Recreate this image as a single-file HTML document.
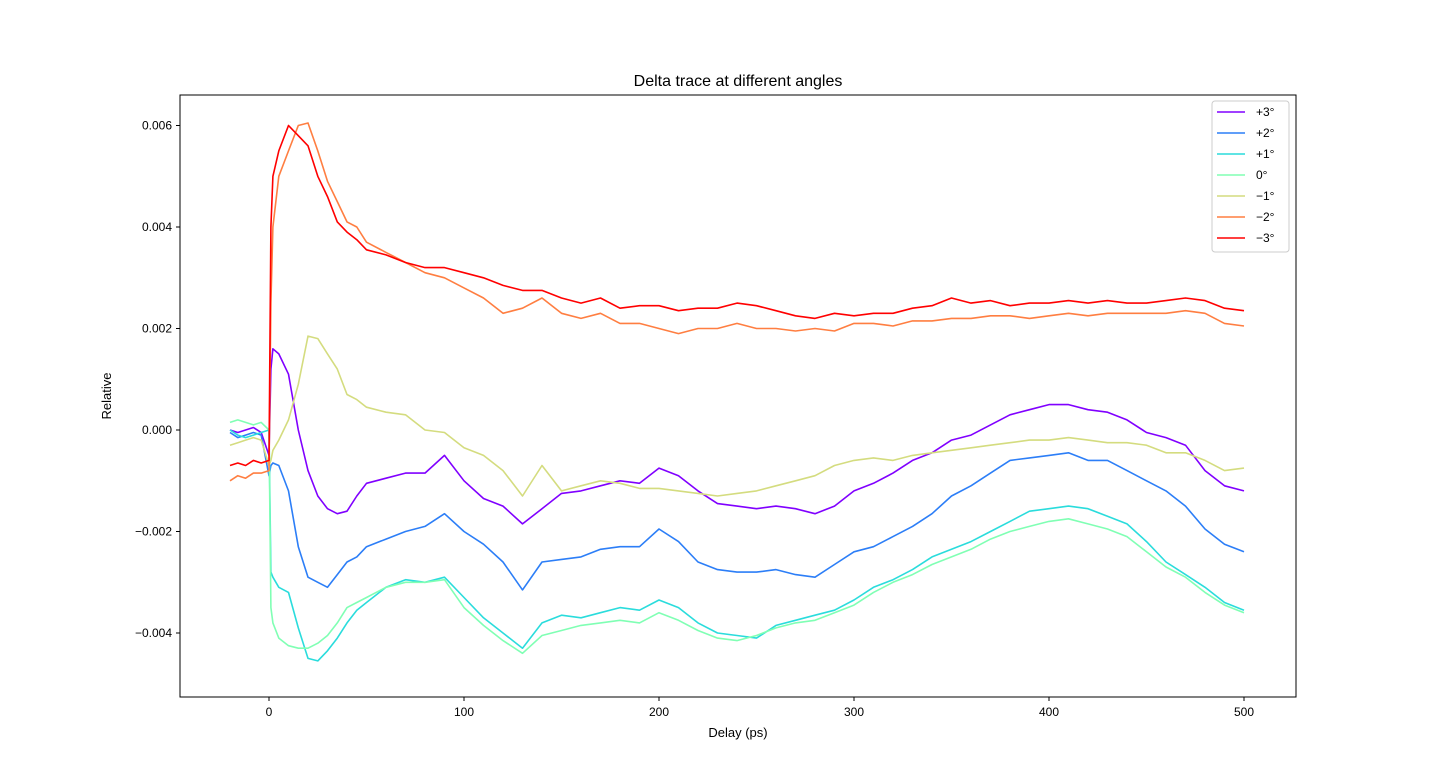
<!DOCTYPE html>
<html><head><meta charset="utf-8"><style>
html,body{margin:0;padding:0;background:#fff;}
svg{display:block;font-family:"Liberation Sans","DejaVu Sans",sans-serif;}
</style></head><body>
<svg id="chart" width="1440" height="783" viewBox="0 0 1440 783" xmlns="http://www.w3.org/2000/svg">
<rect width="1440" height="783" fill="#fff"/>
<text x="738" y="86" font-size="16" text-anchor="middle">Delta trace at different angles</text>
<g id="plot"></g>
<rect x="180" y="95" width="1116" height="602" fill="none" stroke="#000" stroke-width="1"/>
<g id="axes"></g>
<text x="738" y="737" font-size="13" text-anchor="middle">Delay (ps)</text>
<text x="111" y="396" font-size="13" text-anchor="middle" transform="rotate(-90 111 396)">Relative</text>
<g id="legend"></g>
</svg>
<script>
const times=[-20,-16,-12,-8,-4,0,1,2,5,10,15,20,25,30,35,40,45,50,60,70,80,90,100,110,120,130,140,150,160,170,180,190,200,210,220,230,240,250,260,270,280,290,300,310,320,330,340,350,360,370,380,390,400,410,420,430,440,450,460,470,480,490,500];
const labels=["+3°","+2°","+1°","0°","\u22121°","\u22122°","\u22123°"];
const colors=["#8000ff","#2c7ef7","#2adcdc","#80ffb4","#d4dc7f","#ff7e41","#ff0000"];
const sP3=[0.0,-0.05,0.0,0.05,-0.05,-0.5,1.2,1.6,1.5,1.1,0.0,-0.8,-1.3,-1.55,-1.65,-1.6,-1.3,-1.05,-0.95,-0.85,-0.85,-0.5,-1.0,-1.35,-1.5,-1.85,-1.55,-1.25,-1.2,-1.1,-1.0,-1.05,-0.75,-0.9,-1.2,-1.45,-1.5,-1.55,-1.5,-1.55,-1.65,-1.5,-1.2,-1.05,-0.85,-0.6,-0.45,-0.2,-0.1,0.1,0.3,0.4,0.5,0.5,0.4,0.35,0.2,-0.05,-0.15,-0.3,-0.8,-1.1,-1.2];
const sP2=[-0.05,-0.15,-0.1,-0.05,-0.1,-0.9,-0.7,-0.65,-0.7,-1.2,-2.3,-2.9,-3.0,-3.1,-2.85,-2.6,-2.5,-2.3,-2.15,-2.0,-1.9,-1.65,-2.0,-2.25,-2.6,-3.15,-2.6,-2.55,-2.5,-2.35,-2.3,-2.3,-1.95,-2.2,-2.6,-2.75,-2.8,-2.8,-2.75,-2.85,-2.9,-2.65,-2.4,-2.3,-2.1,-1.9,-1.65,-1.3,-1.1,-0.85,-0.6,-0.55,-0.5,-0.45,-0.6,-0.6,-0.8,-1.0,-1.2,-1.5,-1.95,-2.25,-2.4];
const sP1=[0.0,-0.1,-0.15,-0.1,-0.05,0.0,-2.8,-2.9,-3.1,-3.2,-3.9,-4.5,-4.55,-4.35,-4.1,-3.8,-3.55,-3.4,-3.1,-2.95,-3.0,-2.9,-3.3,-3.7,-4.0,-4.3,-3.8,-3.65,-3.7,-3.6,-3.5,-3.55,-3.35,-3.5,-3.8,-4.0,-4.05,-4.1,-3.85,-3.75,-3.65,-3.55,-3.35,-3.1,-2.95,-2.75,-2.5,-2.35,-2.2,-2.0,-1.8,-1.6,-1.55,-1.5,-1.55,-1.7,-1.85,-2.2,-2.6,-2.85,-3.1,-3.4,-3.55];
const s0=[0.15,0.2,0.15,0.1,0.15,0.0,-3.5,-3.8,-4.1,-4.25,-4.3,-4.3,-4.2,-4.05,-3.8,-3.5,-3.4,-3.3,-3.1,-3.0,-3.0,-2.95,-3.5,-3.85,-4.15,-4.4,-4.05,-3.95,-3.85,-3.8,-3.75,-3.8,-3.6,-3.75,-3.95,-4.1,-4.15,-4.05,-3.9,-3.8,-3.75,-3.6,-3.45,-3.2,-3.0,-2.85,-2.65,-2.5,-2.35,-2.15,-2.0,-1.9,-1.8,-1.75,-1.85,-1.95,-2.1,-2.4,-2.7,-2.9,-3.2,-3.45,-3.6];
const sM1=[-0.3,-0.25,-0.2,-0.15,-0.2,-0.7,-0.6,-0.4,-0.2,0.2,0.9,1.85,1.8,1.5,1.2,0.7,0.6,0.45,0.35,0.3,0.0,-0.05,-0.35,-0.5,-0.8,-1.3,-0.7,-1.2,-1.1,-1.0,-1.05,-1.15,-1.15,-1.2,-1.25,-1.3,-1.25,-1.2,-1.1,-1.0,-0.9,-0.7,-0.6,-0.55,-0.6,-0.5,-0.45,-0.4,-0.35,-0.3,-0.25,-0.2,-0.2,-0.15,-0.2,-0.25,-0.25,-0.3,-0.45,-0.45,-0.6,-0.8,-0.75];
const sM2=[-1.0,-0.9,-0.95,-0.85,-0.85,-0.8,2.5,4.0,5.0,5.5,6.0,6.05,5.5,4.9,4.5,4.1,4.0,3.7,3.5,3.3,3.1,3.0,2.8,2.6,2.3,2.4,2.6,2.3,2.2,2.3,2.1,2.1,2.0,1.9,2.0,2.0,2.1,2.0,2.0,1.95,2.0,1.95,2.1,2.1,2.05,2.15,2.15,2.2,2.2,2.25,2.25,2.2,2.25,2.3,2.25,2.3,2.3,2.3,2.3,2.35,2.3,2.1,2.05];
const sM3=[-0.7,-0.65,-0.7,-0.6,-0.65,-0.6,4.0,5.0,5.5,6.0,5.8,5.6,5.0,4.6,4.1,3.9,3.75,3.55,3.45,3.3,3.2,3.2,3.1,3.0,2.85,2.75,2.75,2.6,2.5,2.6,2.4,2.45,2.45,2.35,2.4,2.4,2.5,2.45,2.35,2.25,2.2,2.3,2.25,2.3,2.3,2.4,2.45,2.6,2.5,2.55,2.45,2.5,2.5,2.55,2.5,2.55,2.5,2.5,2.55,2.6,2.55,2.4,2.35];
const series=[sP3,sP2,sP1,s0,sM1,sM2,sM3];
const xTicks=[0,100,200,300,400,500];
const yTicks=[-0.004,-0.002,0,0.002,0.004,0.006];
const yTickLabels=["\u22120.004","\u22120.002","0.000","0.002","0.004","0.006"];

const NS="http://www.w3.org/2000/svg";
function X(t){return 269+t*1.95;}
function Y(v){return 430-v*50750;}
const plot=document.getElementById('plot');
const axes=document.getElementById('axes');
series.forEach((s,i)=>{
  const p=document.createElementNS(NS,'polyline');
  
  
  p.setAttribute('points',s.map((v,k)=>X(times[k]).toFixed(1)+','+Y(v*1e-3).toFixed(1)).join(' '));
  p.setAttribute('fill','none');p.setAttribute('stroke',colors[i]);p.setAttribute('stroke-width','1.6');p.setAttribute('stroke-linejoin','round');
  plot.appendChild(p);
});
xTicks.forEach(t=>{
  const l=document.createElementNS(NS,'line');
  
  
  l.setAttribute('x1',X(t));l.setAttribute('x2',X(t));l.setAttribute('y1',697);l.setAttribute('y2',701);l.setAttribute('stroke','#000');
  axes.appendChild(l);
  const tx=document.createElementNS(NS,'text');
  
  
  tx.setAttribute('x',X(t));tx.setAttribute('y',716);tx.setAttribute('font-size','12');tx.setAttribute('text-anchor','middle');
  tx.textContent=t;axes.appendChild(tx);
});
yTicks.forEach((v,i)=>{
  const l=document.createElementNS(NS,'line');
  
  
  l.setAttribute('x1',176);l.setAttribute('x2',180);l.setAttribute('y1',Y(v));l.setAttribute('y2',Y(v));l.setAttribute('stroke','#000');
  axes.appendChild(l);
  const tx=document.createElementNS(NS,'text');
  
  
  tx.setAttribute('x',172);tx.setAttribute('y',Y(v)+4);tx.setAttribute('font-size','12');tx.setAttribute('text-anchor','end');
  tx.textContent=yTickLabels[i];axes.appendChild(tx);
});
const lg=document.getElementById('legend');
const box=document.createElementNS(NS,'rect');


box.setAttribute('x',1212);box.setAttribute('y',101);box.setAttribute('width',77);box.setAttribute('height',151);box.setAttribute('rx',3);
box.setAttribute('fill','#fff');box.setAttribute('fill-opacity','0.8');box.setAttribute('stroke','#ccc');
lg.appendChild(box);
labels.forEach((lab,i)=>{
  const y=112+i*21;
  const l=document.createElementNS(NS,'line');
  
  
  l.setAttribute('x1',1217);l.setAttribute('x2',1245);l.setAttribute('y1',y);l.setAttribute('y2',y);l.setAttribute('stroke',colors[i]);l.setAttribute('stroke-width','1.6');
  lg.appendChild(l);
  const tx=document.createElementNS(NS,'text');
  
  
  tx.setAttribute('x',1256);tx.setAttribute('y',y+4);tx.setAttribute('font-size','12');
  tx.textContent=lab;lg.appendChild(tx);
});
</script>
</body></html>
